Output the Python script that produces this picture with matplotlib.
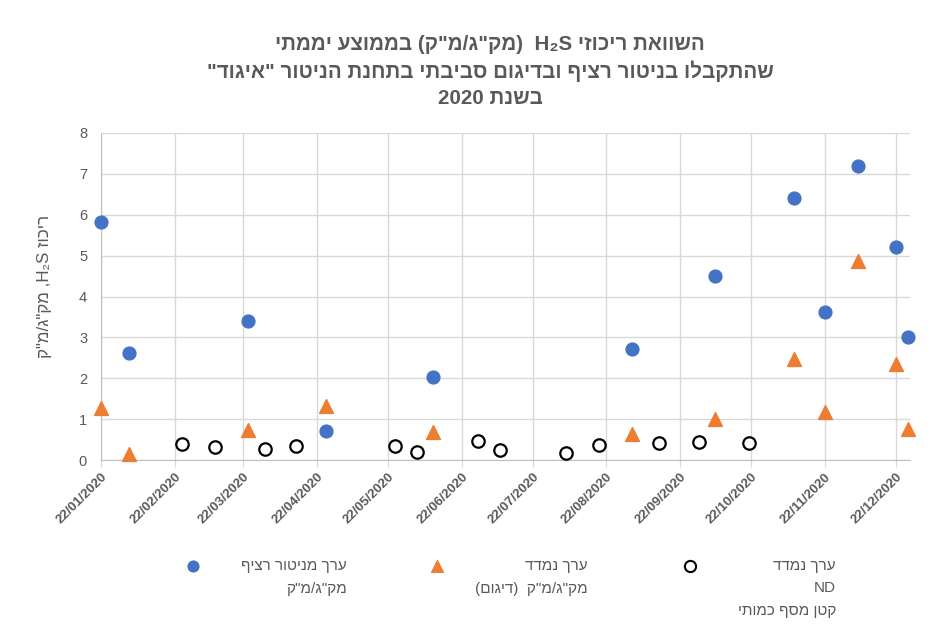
import re
import datetime as dt
import matplotlib
matplotlib.use("Agg")
import matplotlib.pyplot as plt
import matplotlib.dates as mdates

FONT = ['Liberation Sans', 'DejaVu Sans']
plt.rcParams['font.family'] = FONT
GRAY = '#595959'


def visual(s):
    # matplotlib has no bidi support: lay Hebrew out right-to-left by hand,
    # keeping Latin/digit runs in reading order and mirroring brackets
    r = s[::-1]
    r = re.sub(r'[A-Za-z0-9\u2082]+', lambda m: m.group(0)[::-1], r)
    return r.translate(str.maketrans('()', ')('))


def d(m, day):
    return dt.date(2020, m, day)


# continuous monitor, daily average
monitor_dates = [d(1, 22), d(2, 3), d(3, 24), d(4, 26), d(6, 10), d(9, 2),
                 d(10, 7), d(11, 9), d(11, 22), d(12, 6), d(12, 22), d(12, 27)]
monitor_vals = [5.82, 2.62, 3.41, 0.72, 2.02, 2.71,
                4.51, 6.40, 3.62, 7.19, 5.22, 3.00]

# sampling, same days
sample_dates = monitor_dates
sample_vals = [1.27, 0.15, 0.73, 1.33, 0.69, 0.63,
               1.01, 2.48, 1.17, 4.86, 2.34, 0.77]

# sampling below quantification limit (ND)
nd_dates = [d(2, 25), d(3, 10), d(3, 31), d(4, 13), d(5, 25), d(6, 3),
            d(6, 29), d(7, 8), d(8, 5), d(8, 19), d(9, 13), d(9, 30), d(10, 21)]
nd_vals = [0.39, 0.33, 0.28, 0.35, 0.35, 0.20,
           0.46, 0.25, 0.18, 0.37, 0.41, 0.44, 0.41]

tick_dates = [d(m, 22) for m in range(1, 13)]

title_lines = ['השוואת ריכוזי H\u2082S  (מק"ג/מ"ק) בממוצע יממתי',
               'שהתקבלו בניטור רציף ובדיגום סביבתי בתחנת הניטור "איגוד"',
               'בשנת 2020']
ylabel = 'ריכוז H\u2082S, מק"ג/מ"ק'
legend_items = [
    ['ערך מניטור רציף', 'מק"ג/מ"ק'],
    ['ערך נמדד', 'מק"ג/מ"ק  (דיגום)'],
    ['ערך נמדד', 'ND', 'קטן מסף כמותי'],
]

W, H = 949, 624
fig = plt.figure(figsize=(W / 100, H / 100), dpi=100)
ax = fig.add_axes([101 / W, 1 - 460 / H, (910 - 101) / W, (460 - 133) / H])

ax.scatter(monitor_dates, monitor_vals, s=85, color='#4472C4', zorder=3, clip_on=False)
ax.scatter(sample_dates, sample_vals, s=100, marker='^', color='#ED7D31', zorder=3, clip_on=False)
ax.scatter(nd_dates, nd_vals, s=80, facecolor='white', edgecolor='black',
           linewidth=1.6, zorder=3, clip_on=False)

ax.set_xlim(d(1, 22), d(12, 28))
ax.set_ylim(0, 8)
ax.set_xticks(tick_dates)
ax.xaxis.set_major_formatter(mdates.DateFormatter('%d/%m/%Y'))
ax.set_yticks(range(0, 9))
ax.grid(True, color='#D9D9D9', linewidth=1)
ax.set_axisbelow(True)
for side in ['top', 'right']:
    ax.spines[side].set_visible(False)
for side in ['left', 'bottom']:
    ax.spines[side].set_color('#BFBFBF')
ax.tick_params(axis='x', length=5, color='#D9D9D9', pad=3)
ax.tick_params(axis='y', length=0, pad=10)
for lab in ax.get_xticklabels():
    lab.set_rotation(45)
    lab.set_ha('right')
    lab.set_rotation_mode('anchor')
    lab.set_fontsize(9.5)
    lab.set_fontweight('bold')
    lab.set_color(GRAY)
for lab in ax.get_yticklabels():
    lab.set_fontsize(10.5)
    lab.set_color(GRAY)

# title
for i, line in enumerate(title_lines):
    fig.text(490 / W, 1 - (45 + 26.5 * i) / H, visual(line), ha='center', va='center',
             fontsize=14.8, fontweight='bold', color=GRAY)

fig.text(45 / W, 1 - 286 / H, visual(ylabel), rotation=90, ha='center', va='center',
         fontsize=12.2, color=GRAY)

# legend, laid out right-to-left
lax = fig.add_axes([0, 0, 1, 1])
lax.set_xlim(0, W)
lax.set_ylim(H, 0)
lax.axis('off')
lax.scatter([193], [566], s=60, color='#4472C4')
lax.scatter([437], [566], s=70, marker='^', color='#ED7D31')
lax.scatter([690], [566], s=65, facecolor='white', edgecolor='black', linewidth=1.5)
for right, lines in zip([347, 588, 836], legend_items):
    for j, line in enumerate(lines):
        lax.text(right, 566 + 22.5 * j, visual(line), ha='right', va='center',
                 fontsize=11, color=GRAY)

fig.savefig('out.png', dpi=100)
